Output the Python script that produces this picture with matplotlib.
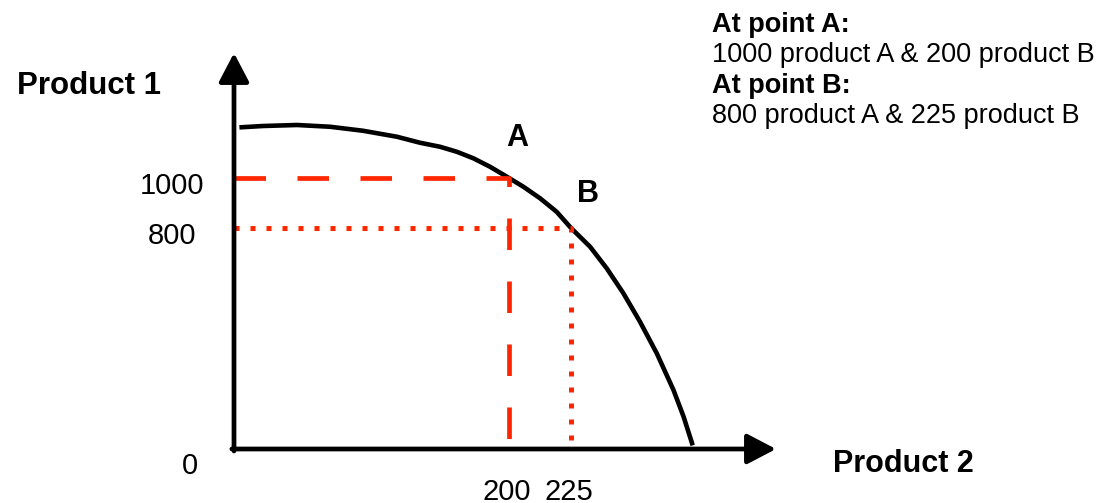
import numpy as np
import matplotlib
matplotlib.use("Agg")
import matplotlib.pyplot as plt

plt.rcParams["font.family"] = ["Liberation Sans", "DejaVu Sans"]
plt.rcParams["lines.scale_dashes"] = False

# production possibility frontier (product 2 on x, product 1 on y)
frontier_x = [5.6, 21.1, 45.8, 69.8, 93.8, 118.5, 135.3, 149.8, 162.0, 174.0,
              186.2, 200, 205.8, 212.5, 219.2, 225, 232.7, 239.4, 246.1, 252.8,
              259.6, 266.3, 270.4, 273.8]
frontier_y = [1203, 1208, 1212, 1205, 1189, 1165, 1141, 1125, 1105, 1079,
              1045, 1000, 965, 919, 865, 800, 732, 654, 564, 461,
              346, 214, 117, 21]

point_names = ["A", "B"]
point_x = [200, 225]
point_y = [1000, 800]

y_tick_values = [1000, 800]
x_tick_values = [200, 225]

notes = ["At point A:", "1000 product A & 200 product B",
         "At point B:", "800 product A & 225 product B"]

RED = "#FF2600"
W, H = 1102, 503


def px(v):
    # pixels -> points at dpi 100
    return v * 0.72


# the sketch is not drawn to scale, so each axis is stretched piecewise
x_knots = [0, 200, 225, 1000]
x_pos = [0, 275, 337, 337 + 775 * 2.48]
y_knots = [0, 800, 1000, 3000]
y_pos = [0, 221, 271, 271 + 2000 * 0.25]


def x_fwd(v):
    return np.interp(v, x_knots, x_pos)


def x_inv(v):
    return np.interp(v, x_pos, x_knots)


def y_fwd(v):
    return np.interp(v, y_knots, y_pos)


def y_inv(v):
    return np.interp(v, y_pos, y_knots)


fig = plt.figure(figsize=(W / 100, H / 100), dpi=100)
ax = fig.add_axes([234 / W, (H - 449) / H, (776 - 234) / W, (449 - 53) / H])
ax.set_xscale("function", functions=(x_fwd, x_inv))
ax.set_yscale("function", functions=(y_fwd, y_inv))
ax.set_xlim(0, x_inv(542))
ax.set_ylim(0, y_inv(396))
ax.axis("off")

# axes with arrow heads
arrow = dict(arrowstyle="-|>,head_length=0.42,head_width=0.22", mutation_scale=42,
             lw=3.4, color="black", shrinkA=0, shrinkB=0)
ax.annotate("", xy=(1.0, 0), xytext=(-0.004, 0), xycoords="axes fraction",
            arrowprops=arrow, annotation_clip=False)
ax.annotate("", xy=(0, 1.0), xytext=(0, -0.005), xycoords="axes fraction",
            arrowprops=arrow, annotation_clip=False)

# frontier curve
ax.plot(frontier_x, frontier_y, color="black", lw=3.3, clip_on=False,
        solid_joinstyle="round")

# guide lines to point A (dashed) and point B (dotted)
ax.plot([0, point_x[0], point_x[0]], [point_y[0], point_y[0], 0], color=RED,
        lw=3.4, linestyle=(0, (px(31.5), px(31.5))), clip_on=False)
ax.plot([0, point_x[1], point_x[1]], [point_y[1], point_y[1], 0], color=RED,
        lw=3.6, linestyle=(0, (px(5), px(11))), clip_on=False)

# point labels
label_offsets = [(8, 40), (17, 34)]
for name, x, y, (dx, dy) in zip(point_names, point_x, point_y, label_offsets):
    ax.annotate(name, xy=(x, y), xytext=(px(dx), px(dy)), textcoords="offset points",
                ha="center", va="center", fontsize=22, fontweight="bold")

# tick labels
for v in y_tick_values:
    ax.annotate(str(v), xy=(0, v), xytext=(px(-62), px(-16.5)),
                textcoords="offset points", ha="center", va="baseline", fontsize=21)
for v in x_tick_values:
    ax.annotate(str(v), xy=(v, 0), xytext=(px(-2), px(-51)),
                textcoords="offset points", ha="center", va="baseline", fontsize=21)
ax.annotate("0", xy=(0, 0), xytext=(px(-44), px(-25)), textcoords="offset points",
            ha="center", va="baseline", fontsize=21)

# axis titles
fig.text(17 / W, 1 - 94 / H, "Product 1", fontsize=22.5, fontweight="bold",
         va="baseline", ha="left")
fig.text(833 / W, 1 - 472 / H, "Product 2", fontsize=22, fontweight="bold",
         va="baseline", ha="left")

# summary in the top right corner
baselines = [32, 62, 93, 123]
for i, (line, b) in enumerate(zip(notes, baselines)):
    fig.text(712 / W, 1 - b / H, line, fontsize=19.5,
             fontweight="bold" if i % 2 == 0 else "normal",
             va="baseline", ha="left")

fig.savefig("out.png", dpi=100)
